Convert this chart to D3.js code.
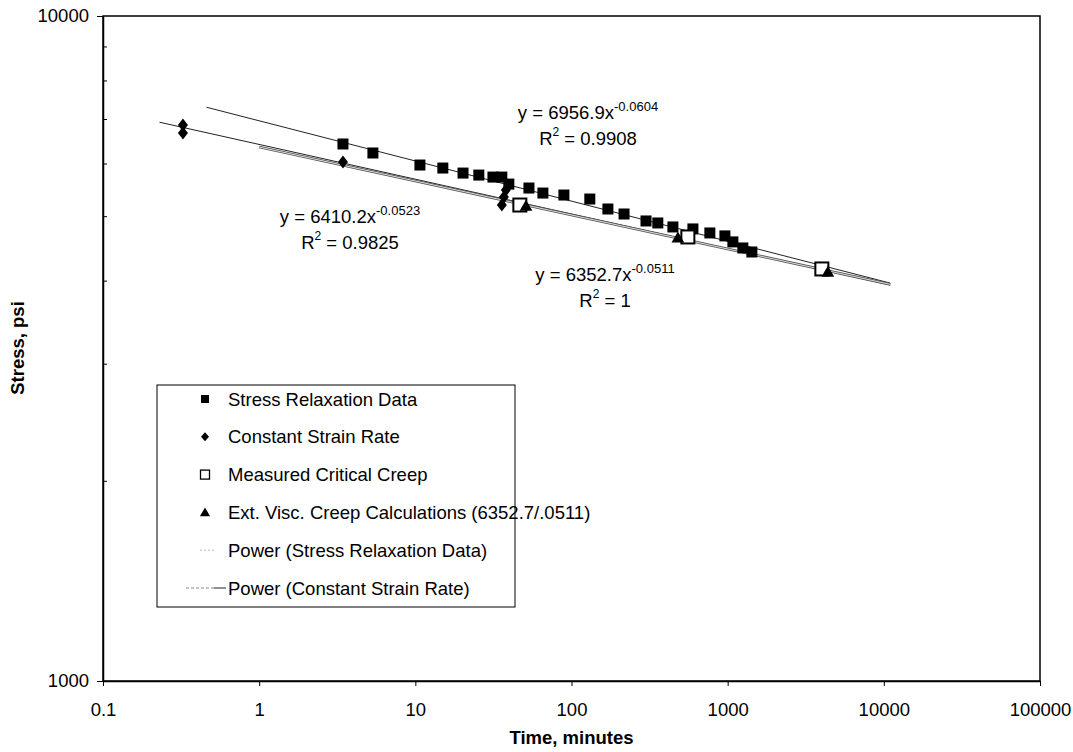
<!DOCTYPE html>
<html>
<head>
<meta charset="utf-8">
<script src="https://cdn.jsdelivr.net/npm/d3@7/dist/d3.min.js"></script>
<style>
  body { margin: 0; background: #fff; }
  text { font-family: Arial, "Liberation Sans", sans-serif; fill: #000; }
</style>
</head>
<body>
<svg id="chart" width="1073" height="752"></svg>
<script>
// ---- data ----
var relaxTime   = [3.44, 5.35, 10.7, 15.0, 20.2, 25.5, 31.4, 35.8, 39.7, 53.4, 65.6, 89.4, 131, 171, 217, 300, 357, 446, 599, 769, 960, 1080, 1251, 1429];
var relaxStress = [6420, 6223, 5969, 5907, 5805, 5765, 5725, 5725, 5588, 5512, 5417, 5380, 5306, 5126, 5038, 4918, 4884, 4817, 4784, 4718, 4670, 4574, 4479, 4417];

var strainTime   = [0.325, 0.325, 3.44, 38.0, 36.9, 35.8];
var strainStress = [6856, 6669, 6032, 5473, 5343, 5197];

var creepTime   = [46.7, 556, 4010];
var creepStress = [5197, 4653, 4165];

var viscTime   = [51.1, 480, 4380];
var viscStress = [5180, 4637, 4121];

// power trendlines y = a*x^b as shown on the chart, drawn between start and end times
var trendCoef  = [6956.9, 6410.2, 6352.7];
var trendExp   = [-0.0604, -0.0523, -0.0511];
var trendStart = [0.46, 0.23, 1];
var trendEnd   = [11000, 11000, 11000];

var xTicks = [0.1, 1, 10, 100, 1000, 10000, 100000];
var xTickLabels = ["0.1", "1", "10", "100", "1000", "10000", "100000"];
var yTicks = [1000, 10000];
var yMinor = [2000, 3000, 4000, 5000, 6000, 7000, 8000, 9000];

var legendLabels = ["Stress Relaxation Data", "Constant Strain Rate", "Measured Critical Creep",
                    "Ext. Visc. Creep Calculations (6352.7/.0511)", "Power (Stress Relaxation Data)",
                    "Power (Constant Strain Rate)"];

// ---- layout ----
var pLeft = 103, pRight = 1040, pTop = 16, pBottom = 681;
var fs = "18.5px";
var svg = d3.select("#chart");

var x = d3.scaleLog().domain([0.1, 100000]).range([pLeft, pRight]);
var y = d3.scaleLog().domain([1000, 10000]).range([pBottom, pTop]);

// frame
svg.append("rect")
    .attr("x", pLeft).attr("y", pTop)
    .attr("width", pRight - pLeft).attr("height", pBottom - pTop)
    .attr("fill", "none").attr("stroke", "#000").attr("stroke-width", 1.5);

// x axis
var xAxis = svg.append("g")
    .attr("transform", "translate(0," + pBottom + ")")
    .call(d3.axisBottom(x).tickValues(xTicks)
        .tickFormat(function(d, i) { return xTickLabels[i]; })
        .tickSize(5).tickSizeOuter(0).tickPadding(17));
xAxis.select(".domain").attr("stroke-width", 1.5);
xAxis.selectAll("text").style("font-size", fs);

// y axis
var yAxis = svg.append("g")
    .attr("transform", "translate(" + pLeft + ",0)")
    .call(d3.axisLeft(y).tickValues(yTicks)
        .tickFormat(d3.format("d"))
        .tickSize(6).tickSizeOuter(0).tickPadding(8));
yAxis.select(".domain").attr("stroke-width", 1.5);
yAxis.selectAll("text").style("font-size", fs);

svg.append("g")
    .attr("transform", "translate(" + pLeft + ",0)")
    .call(d3.axisRight(y).tickValues(yMinor).tickFormat("").tickSize(4).tickSizeOuter(0))
    .select(".domain").remove();

// axis titles
svg.append("text")
    .attr("x", (pLeft + pRight) / 2).attr("y", 744)
    .attr("text-anchor", "middle")
    .style("font-size", fs).style("font-weight", "bold")
    .text("Time, minutes");

svg.append("text")
    .attr("transform", "translate(24,348) rotate(-90)")
    .attr("text-anchor", "middle")
    .style("font-size", fs).style("font-weight", "bold")
    .text("Stress, psi");

// trendlines
var trendStyle = [
    { stroke: "#222", width: 1, dash: null },
    { stroke: "#222", width: 1, dash: null },
    { stroke: "#555", width: 2.6, dash: null }
];
var line = d3.line().x(function(d) { return x(d[0]); }).y(function(d) { return y(d[1]); });
var plot = svg.append("g");
trendCoef.forEach(function(a, i) {
    var pts = [trendStart[i], trendEnd[i]].map(function(t) { return [t, a * Math.pow(t, trendExp[i])]; });
    var p = plot.append("path").datum(pts)
        .attr("d", line)
        .attr("fill", "none")
        .attr("stroke", trendStyle[i].stroke)
        .attr("stroke-width", trendStyle[i].width);
    if (trendStyle[i].dash) p.attr("stroke-dasharray", trendStyle[i].dash);
    if (i == 2) {
        // double-line look of the ext. visc. trend
        plot.append("path").datum(pts)
            .attr("d", line).attr("fill", "none")
            .attr("stroke", "#fff").attr("stroke-width", 0.8);
    }
});

function zip(a, b) { return a.map(function(v, i) { return [v, b[i]]; }); }

var diamondPath = "M0,-6.5L5,0L0,6.5L-5,0Z";

// stress relaxation: filled squares
plot.selectAll(".relax").data(zip(relaxTime, relaxStress)).enter()
    .append("rect").attr("class", "relax")
    .attr("x", function(d) { return x(d[0]) - 5.5; })
    .attr("y", function(d) { return y(d[1]) - 5.5; })
    .attr("width", 11).attr("height", 11)
    .attr("fill", "#000");

// constant strain rate: diamonds
plot.selectAll(".strain").data(zip(strainTime, strainStress)).enter()
    .append("path").attr("class", "strain")
    .attr("d", diamondPath)
    .attr("transform", function(d) { return "translate(" + x(d[0]) + "," + y(d[1]) + ")"; })
    .attr("fill", "#000");

// measured critical creep: open squares
plot.selectAll(".creep").data(zip(creepTime, creepStress)).enter()
    .append("rect").attr("class", "creep")
    .attr("x", function(d) { return x(d[0]) - 6.5; })
    .attr("y", function(d) { return y(d[1]) - 6.5; })
    .attr("width", 13).attr("height", 13)
    .attr("fill", "#fff").attr("stroke", "#000").attr("stroke-width", 2);

// ext. visc. creep: triangles
plot.selectAll(".visc").data(zip(viscTime, viscStress)).enter()
    .append("path").attr("class", "visc")
    .attr("d", d3.symbol().type(d3.symbolTriangle).size(70))
    .attr("transform", function(d) { return "translate(" + x(d[0]) + "," + (y(d[1]) + 1) + ")"; })
    .attr("fill", "#000");

// trendline equations
var eqs = [
    { cx: 588, by: 119, a: "y = 6956.9x", e: "-0.0604", r: "0.9908" },
    { cx: 350, by: 223, a: "y = 6410.2x", e: "-0.0523", r: "0.9825" },
    { cx: 605, by: 281, a: "y = 6352.7x", e: "-0.0511", r: "1" }
];
eqs.forEach(function(q) {
    var t = svg.append("text").attr("x", q.cx).attr("y", q.by)
        .attr("text-anchor", "middle").style("font-size", fs);
    t.append("tspan").text(q.a);
    t.append("tspan").attr("dy", -8.5).style("font-size", "13px").text(q.e);
    var r = svg.append("text").attr("x", q.cx).attr("y", q.by + 25.5)
        .attr("text-anchor", "middle").style("font-size", fs);
    r.append("tspan").text("R");
    r.append("tspan").attr("dy", -8.5).style("font-size", "12px").text("2");
    r.append("tspan").attr("dy", 8.5).text(" = " + q.r);
});

// legend
var lg = svg.append("g");
lg.append("rect").attr("x", 157).attr("y", 385).attr("width", 358).attr("height", 222)
    .attr("fill", "#fff").attr("stroke", "#000").attr("stroke-width", 1);
var rowY = function(i) { return 399 + i * 37.8; };
legendLabels.forEach(function(name, i) {
    lg.append("text").attr("x", 228).attr("y", rowY(i) + 6.6)
        .style("font-size", fs).text(name);
});
lg.append("rect").attr("x", 201).attr("y", rowY(0) - 4).attr("width", 8).attr("height", 8).attr("fill", "#000");
lg.append("path").attr("d", "M0,-4.5L4,0L0,4.5L-4,0Z")
    .attr("transform", "translate(205," + rowY(1) + ")").attr("fill", "#000");
lg.append("rect").attr("x", 200.5).attr("y", rowY(2) - 4.5).attr("width", 9).attr("height", 9)
    .attr("fill", "#fff").attr("stroke", "#000").attr("stroke-width", 1.3);
lg.append("path").attr("d", d3.symbol().type(d3.symbolTriangle).size(45))
    .attr("transform", "translate(205," + (rowY(3) + 1) + ")").attr("fill", "#000");
lg.append("line").attr("x1", 200).attr("x2", 216).attr("y1", rowY(4)).attr("y2", rowY(4))
    .attr("stroke", "#bbb").attr("stroke-width", 1).attr("stroke-dasharray", "2,2");
lg.append("line").attr("x1", 186).attr("x2", 214).attr("y1", rowY(5)).attr("y2", rowY(5))
    .attr("stroke", "#888").attr("stroke-width", 1).attr("stroke-dasharray", "3,2");
lg.append("line").attr("x1", 214).attr("x2", 226).attr("y1", rowY(5)).attr("y2", rowY(5))
    .attr("stroke", "#222").attr("stroke-width", 1);
</script>
</body>
</html>
